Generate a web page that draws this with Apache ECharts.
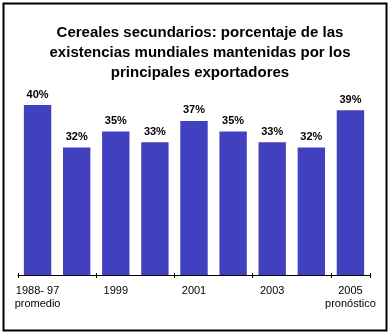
<!DOCTYPE html>
<html>
<head>
<meta charset="utf-8">
<script src="https://cdn.jsdelivr.net/npm/echarts@6/dist/echarts.min.js"></script>
<style>
  html, body { margin: 0; padding: 0; background: #ffffff; }
  #chart { width: 391px; height: 336px; }
</style>
</head>
<body>
<div id="chart"></div>
<script>
// Periods on the horizontal axis
const categories = ['1988- 97\npromedio', '1998', '1999', '2000', '2001', '2002', '2003', '2004', '2005\npronóstico'];
// Share of world coarse-grain stocks held by the main exporters (%)
const shares = [40, 32, 35, 33, 37, 35, 33, 32, 39];

const FONT = '"Liberation Sans", Arial, sans-serif';
const BAR_COLOR = '#4141BF';

const chart = echarts.init(document.getElementById('chart'), null, { renderer: 'canvas' });

chart.setOption({
  backgroundColor: '#ffffff',
  animation: false,
  title: {
    text: 'Cereales secundarios: porcentaje de las\nexistencias mundiales mantenidas por los\nprincipales exportadores',
    left: 195,
    top: 18,
    textAlign: 'center',
    textStyle: {
      fontFamily: FONT,
      fontSize: 15,
      fontWeight: 'bold',
      color: '#000000',
      lineHeight: 20
    }
  },
  graphic: [{
    type: 'rect',
    shape: { x: 3.5, y: 3.5, width: 383, height: 327 },
    style: { fill: 'none', stroke: '#000000', lineWidth: 2 },
    silent: true,
    z: 10
  }],
  grid: { left: 18, right: 21, top: 105, bottom: 61, containLabel: false },
  xAxis: [{
    type: 'category',
    data: categories,
    boundaryGap: true,
    axisLine: { show: true, lineStyle: { color: '#000000', width: 1 } },
    axisTick: { show: true, interval: 1, length: 3, lineStyle: { color: '#000000' } },
    axisLabel: {
      interval: 1,
      margin: 9,
      fontFamily: FONT,
      fontSize: 11,
      lineHeight: 13,
      color: '#000000'
    }
  }, {
    type: 'category',
    data: categories,
    position: 'bottom',
    boundaryGap: true,
    axisLine: { show: false },
    axisTick: { show: true, inside: true, interval: 1, length: 2, lineStyle: { color: '#000000' } },
    axisLabel: { show: false }
  }],
  yAxis: {
    type: 'value',
    min: 8,
    max: 40,
    show: false,
    splitLine: { show: false }
  },
  series: [{
    type: 'bar',
    data: shares,
    barWidth: '70%',
    itemStyle: { color: BAR_COLOR },
    label: {
      show: true,
      position: 'top',
      distance: 5,
      formatter: '{c}%',
      fontFamily: FONT,
      fontSize: 11,
      fontWeight: 'bold',
      color: '#000000'
    }
  }]
});
</script>
</body>
</html>
